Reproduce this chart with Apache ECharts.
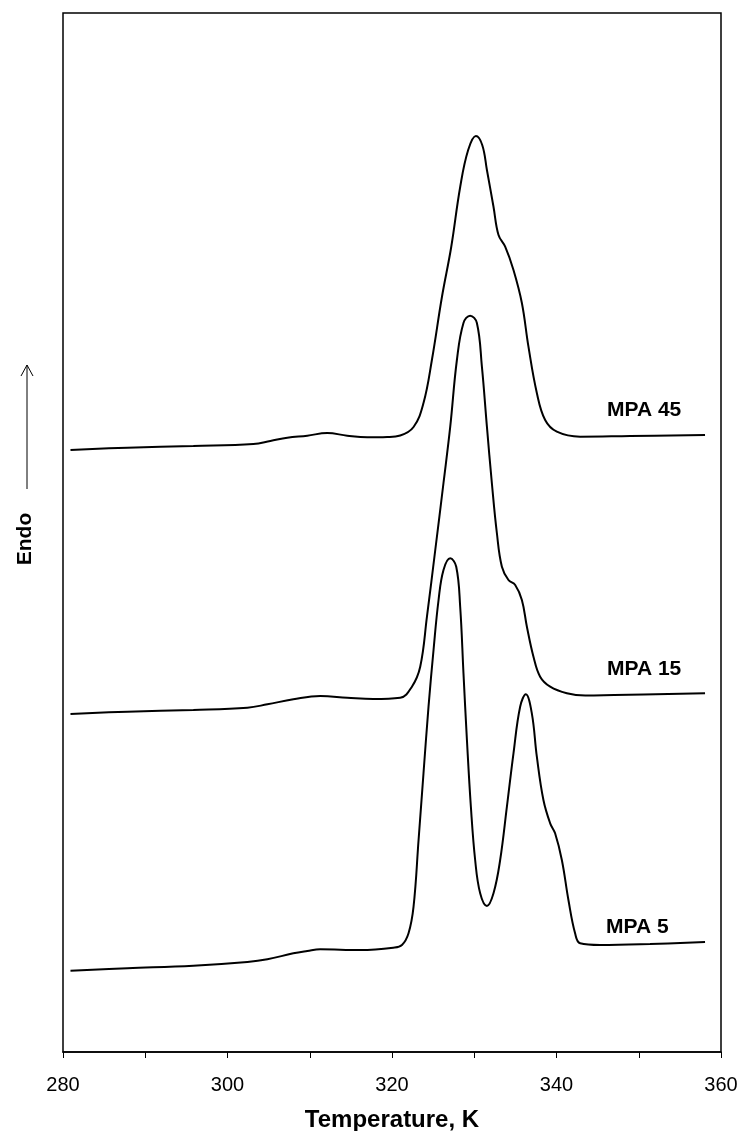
<!DOCTYPE html>
<html>
<head>
<meta charset="utf-8">
<script src="https://cdn.jsdelivr.net/npm/echarts@6/dist/echarts.min.js"></script>
<style>
  html, body { margin: 0; padding: 0; background: #fff; }
  #chart { width: 743px; height: 1131px; }
</style>
</head>
<body>
<div id="chart"></div>
<script>
// DSC thermograms (heat flow, arbitrary units, curves offset vertically)
const temps45 = [280.91, 287.84, 295.85, 303.14, 305.21, 307.27, 309.70, 312.13, 314.56, 316.99, 319.42, 321.0,
  322.62, 323.83, 324.85, 326.07, 327.2, 328.29, 329.26, 330.2, 330.97, 331.54, 332.34, 332.95, 333.76,
  334.77, 335.79, 336.59, 337.61, 338.62, 340.04, 342.87, 348.95, 358.06];
const flow45 = [60.2, 60.43, 60.6, 60.8, 61.1, 61.43, 61.63, 61.9, 61.63, 61.47, 61.5, 61.65,
  62.5, 64.9, 69.2, 75.5, 80.5, 86.5, 90.2, 91.6, 90.7, 88.2, 84.53, 81.7, 80.53,
  78.2, 74.9, 70.53, 65.9, 63.2, 62.03, 61.53, 61.6, 61.7];

const temps15 = [280.91, 287.84, 295.85, 302.42, 304.85, 308.0, 311.28, 314.56, 317.72, 321.0,
  322.42, 323.43, 324.25, 325.26, 326.26, 327.08, 327.89, 328.69, 329.5, 330.32, 330.93, 331.54,
  332.14, 332.75, 333.36, 334.16, 334.98, 335.79, 336.4, 337.2, 338.01, 339.23, 341.26, 343.5, 347.0, 358.06];
const flow15 = [33.8, 34.03, 34.2, 34.43, 34.77, 35.27, 35.6, 35.43, 35.3, 35.43,
  36.53, 38.53, 43.53, 50.2, 56.9, 62.53, 69.2, 72.9, 73.63, 72.9, 68.53, 62.53,
  56.9, 51.9, 48.53, 47.2, 46.7, 45.2, 42.53, 39.53, 37.53, 36.53, 35.87, 35.65, 35.7, 35.87];

const temps5 = [280.91, 287.84, 295.85, 302.42, 304.85, 308.0, 309.70, 311.28, 316.14, 320.15,
  321.21, 322.01, 322.62, 323.23, 323.83, 324.44, 325.05, 325.66, 326.26, 327.08, 327.81, 328.29,
  328.69, 329.11, 329.59, 330.11, 330.72, 331.54, 332.34, 333.15, 333.97, 334.77, 335.58, 336.27,
  337.0, 337.61, 338.41, 339.23, 339.83, 340.65, 341.45, 342.26, 342.87, 345.3, 351.38, 358.06];
const flow5 = [8.13, 8.37, 8.63, 9.0, 9.27, 9.87, 10.1, 10.27, 10.2, 10.43,
  10.7, 11.87, 14.53, 21.2, 27.87, 34.53, 40.2, 45.2, 48.2, 49.37, 48.53, 44.53,
  37.87, 31.2, 24.53, 19.2, 15.87, 14.6, 15.87, 19.2, 24.53, 29.87, 34.53, 35.77,
  33.87, 29.53, 25.2, 22.87, 21.87, 19.2, 15.2, 11.87, 10.87, 10.7, 10.8, 11.0];

const curveNames = ['MPA 45', 'MPA 15', 'MPA 5'];
const xTickValues = [280, 300, 320, 340, 360];

function zip(xs, ys) { return xs.map((x, i) => [x, ys[i]]); }

const chart = echarts.init(document.getElementById('chart'), null, { renderer: 'canvas' });

const lineStyle = { color: '#000', width: 2 };
function curve(name, xs, ys) {
  return {
    name: name,
    type: 'line',
    data: zip(xs, ys),
    smooth: 0.4,
    showSymbol: false,
    lineStyle: lineStyle,
    silent: true
  };
}

const labelFont = 'bold 21px "Liberation Sans", Arial, sans-serif';

chart.setOption({
  animation: false,
  backgroundColor: '#fff',
  grid: {
    left: 63, right: 22, top: 13, bottom: 79,
    containLabel: false,
    outerBoundsMode: 'none',
    show: true, borderColor: '#000', borderWidth: 1.5, backgroundColor: 'transparent'
  },
  xAxis: {
    type: 'value',
    min: 280, max: 360, interval: 10,
    axisLine: { show: true, lineStyle: { color: '#000', width: 1.5 } },
    axisTick: { show: true, inside: false, length: 6, lineStyle: { color: '#000', width: 1 } },
    splitLine: { show: false },
    axisLabel: {
      color: '#000', fontFamily: 'Liberation Sans, Arial, sans-serif', fontSize: 20, margin: 23,
      formatter: v => (xTickValues.indexOf(v) >= 0 ? String(v) : '')
    },
    name: 'Temperature, K',
    nameLocation: 'middle',
    nameGap: 56,
    nameTextStyle: { color: '#000', fontFamily: 'Liberation Sans, Arial, sans-serif', fontSize: 24, fontWeight: 'bold' }
  },
  yAxis: {
    type: 'value', min: 0, max: 103.9,
    axisLine: { show: false }, axisTick: { show: false },
    axisLabel: { show: false }, splitLine: { show: false }
  },
  series: [
    curve(curveNames[0], temps45, flow45),
    curve(curveNames[1], temps15, flow15),
    curve(curveNames[2], temps5, flow5)
  ],
  graphic: [
    { type: 'text', left: 607, top: 400, style: { text: curveNames[0], fill: '#000', font: labelFont } },
    { type: 'text', left: 607, top: 659, style: { text: curveNames[1], fill: '#000', font: labelFont } },
    { type: 'text', left: 606, top: 917, style: { text: curveNames[2], fill: '#000', font: labelFont } },
    // y-axis caption with upward arrow
    { type: 'text', x: 25, y: 539, rotation: Math.PI / 2,
      style: { text: 'Endo', fill: '#000', font: 'bold 21px "Liberation Sans", Arial, sans-serif', align: 'center', verticalAlign: 'middle' } },
    { type: 'line', shape: { x1: 27, y1: 489, x2: 27, y2: 365 }, style: { stroke: '#000', lineWidth: 1 } },
    { type: 'polyline', shape: { points: [[21, 376], [27, 365], [33, 376]] }, style: { stroke: '#000', lineWidth: 1, fill: null } }
  ]
});
</script>
</body>
</html>
